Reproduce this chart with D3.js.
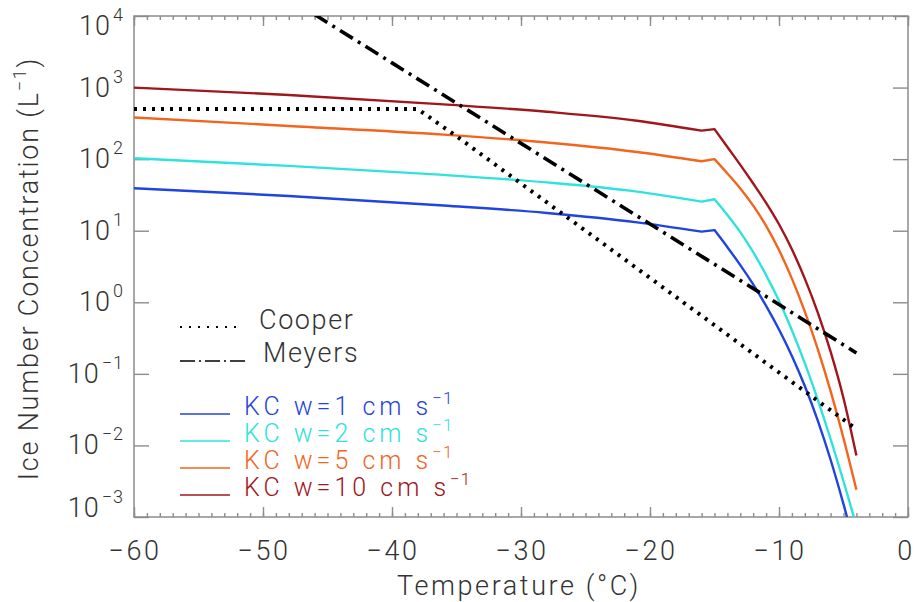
<!DOCTYPE html>
<html>
<head>
<meta charset="utf-8">
<script src="https://cdn.jsdelivr.net/npm/d3@7"></script>
<style>
  html, body { margin: 0; padding: 0; background: #fff; }
  svg { display: block; }
  text { font-family: Roboto, "Open Sans", sans-serif; font-weight: 300; fill: #333; }
</style>
</head>
<body>
<svg id="chart" width="916" height="602"></svg>
<script>
// Temperature axis (°C)
const xTicks = [-60, -50, -40, -30, -20, -10, 0];
// Decade exponents on the concentration axis
const yExponents = [-3, -2, -1, 0, 1, 2, 3, 4];

// Cooper parameterisation (L^-1)
const cooperT = [-60, -38, -35, -30, -25, -20, -15, -10, -5, -4];
const cooperN = [500, 500, 209, 45.7, 10.0, 2.19, 0.478, 0.1045, 0.0229, 0.0169];

// Meyers parameterisation (L^-1)
const meyersT = [-46, -40, -30, -20, -10, -4];
const meyersN = [10470, 2213, 166, 12.4, 0.93, 0.196];

// KC scheme, one series per updraft speed
const kcT = [-60, -48, -36, -28, -21, -16, -15, -14, -13, -12, -11, -10, -9, -8, -7, -6, -5, -4];
const kcW1  = [39.3, 30.6, 22.5, 17.7, 13.1, 9.7, 10.2, 5.89, 3.31, 1.78, 0.891, 0.417, 0.178, 0.0676, 0.0224, 0.00631, 0.00151, 0.000316];
const kcW2  = [103, 80.4, 60.2, 47.3, 35.2, 25.5, 27.5, 16.6, 9.55, 5.01, 2.40, 1.05, 0.407, 0.141, 0.0437, 0.0123, 0.00316, 0.00076];
const kcW5  = [382, 291, 220, 171, 126, 93.5, 100, 63.1, 38.9, 22.4, 11.7, 5.37, 2.14, 0.741, 0.224, 0.0575, 0.0126, 0.0024];
const kcW10 = [1000, 789, 583, 459, 344, 250, 263, 148, 83.2, 45.7, 24.5, 12.3, 5.50, 2.14, 0.724, 0.204, 0.0457, 0.00724];

const kcSeries = [
  { w: "1",  values: kcW1,  color: "#1f44e0" },
  { w: "2",  values: kcW2,  color: "#30e2dc" },
  { w: "5",  values: kcW5,  color: "#f2651f" },
  { w: "10", values: kcW10, color: "#a0161c" }
];

const svg = d3.select("#chart");
const margin = { left: 134, right: 8, top: 16, bottom: 85 };
const W = 916, H = 602;
const x = d3.scaleLinear().domain([-60, 0]).range([margin.left, W - margin.right]);
const y = d3.scaleLog().domain([1e-3, 1e4]).range([H - margin.bottom, margin.top]);
const axisColor = "#8c8c8c";

svg.append("defs").append("clipPath").attr("id", "plot-clip")
  .append("rect")
  .attr("x", x(-60)).attr("y", y(1e4))
  .attr("width", x(0) - x(-60)).attr("height", y(1e-3) - y(1e4));

// Tick marks on all four sides, pointing inward
function styleAxis(g) {
  g.select(".domain").remove();
  g.selectAll(".tick line").attr("stroke", axisColor).attr("stroke-width", 1.4);
  g.selectAll(".tick text").remove();
}
const minorTicks = d3.range(-60, 1, 1);
const decades = yExponents.map(e => Math.pow(10, e));

svg.append("g").attr("transform", `translate(0,${y(1e-3)})`)
  .call(d3.axisBottom(x).tickValues(minorTicks).tickSize(-4).tickFormat("")).call(styleAxis);
svg.append("g").attr("transform", `translate(0,${y(1e-3)})`)
  .call(d3.axisBottom(x).tickValues(xTicks).tickSize(-10).tickFormat("")).call(styleAxis);
svg.append("g").attr("transform", `translate(0,${y(1e4)})`)
  .call(d3.axisTop(x).tickValues(minorTicks).tickSize(-4).tickFormat("")).call(styleAxis);
svg.append("g").attr("transform", `translate(0,${y(1e4)})`)
  .call(d3.axisTop(x).tickValues(xTicks).tickSize(-10).tickFormat("")).call(styleAxis);
svg.append("g").attr("transform", `translate(${x(-60)},0)`)
  .call(d3.axisLeft(y).tickValues(decades).tickSize(-15).tickFormat("")).call(styleAxis);
svg.append("g").attr("transform", `translate(${x(0)},0)`)
  .call(d3.axisRight(y).tickValues(decades).tickSize(-15).tickFormat("")).call(styleAxis);

svg.append("rect")
  .attr("x", x(-60)).attr("y", y(1e4))
  .attr("width", x(0) - x(-60)).attr("height", y(1e-3) - y(1e4))
  .attr("fill", "none").attr("stroke", axisColor).attr("stroke-width", 1.5);

// X tick labels (kept inside the page at the right edge)
const fmt = d3.format("d");
svg.append("g").selectAll("text").data(xTicks).join("text")
  .attr("x", d => Math.min(x(d) + 1, W - 10))
  .attr("y", y(1e-3) + 43)
  .attr("text-anchor", "middle")
  .attr("font-size", 27)
  .attr("letter-spacing", 2.5)
  .text(d => fmt(d));

// Y tick labels as powers of ten; the end labels are nudged inside the frame
const yl = svg.append("g").selectAll("text").data(yExponents).join("text")
  .attr("x", x(-60) - 10)
  .attr("y", (d, i) => {
    let base = y(Math.pow(10, d)) + 9;
    if (i === 0) base -= 9;
    if (i === yExponents.length - 1) base += 10;
    return base;
  })
  .attr("text-anchor", "end")
  .attr("font-size", 27)
  .attr("letter-spacing", 1);
yl.append("tspan").text("10");
yl.append("tspan").attr("dy", -14).attr("font-size", 18).attr("dx", 2)
  .text(d => d < 0 ? "\u2212" + Math.abs(d) : String(d));

// Axis titles
svg.append("text")
  .attr("x", (x(-60) + x(0)) / 2 - 2)
  .attr("y", 595)
  .attr("text-anchor", "middle")
  .attr("font-size", 27)
  .attr("letter-spacing", 2.6)
  .text("Temperature (°C)");

const yt = svg.append("text")
  .attr("transform", `translate(38,${(y(1e4) + y(1e-3)) / 2 + 2}) rotate(-90)`)
  .attr("text-anchor", "middle")
  .attr("font-size", 27)
  .attr("letter-spacing", 1.8);
yt.append("tspan").text("Ice Number Concentration (L");
yt.append("tspan").attr("dy", -12).attr("font-size", 18).text("\u22121");
yt.append("tspan").attr("dy", 12).text(")");

// Data curves
const plot = svg.append("g").attr("clip-path", "url(#plot-clip)");
const line = d3.line().x(d => x(d[0])).y(d => y(d[1]));
const smooth = d3.line().x(d => x(d[0])).y(d => y(d[1])).curve(d3.curveMonotoneX);

// KC curves: smooth plateau, sharp kink between -16 and -15, smooth fall-off
kcSeries.forEach(s => {
  const pts = kcT.map((t, i) => [t, s.values[i]]);
  const k0 = kcT.indexOf(-16), k1 = kcT.indexOf(-15);
  const d = smooth(pts.slice(0, k0 + 1))
    + line(pts.slice(k0, k1 + 1)).replace(/^M/, "L")
    + smooth(pts.slice(k1)).replace(/^M/, "L");
  plot.append("path")
    .attr("d", d)
    .attr("fill", "none")
    .attr("stroke", s.color)
    .attr("stroke-width", 2.4)
    .attr("stroke-linejoin", "round");
});

plot.append("path")
  .datum(cooperT.map((t, i) => [t, cooperN[i]]))
  .attr("d", line)
  .attr("fill", "none")
  .attr("stroke", "#000")
  .attr("stroke-width", 4)
  .attr("stroke-dasharray", "3,6");

plot.append("path")
  .datum(meyersT.map((t, i) => [t, meyersN[i]]))
  .attr("d", line)
  .attr("fill", "none")
  .attr("stroke", "#000")
  .attr("stroke-width", 3.6)
  .attr("stroke-dasharray", "15,6,3,6");

// Legend
const legend = svg.append("g");
const lx0 = 180, lx1 = 240;
legend.append("line")
  .attr("x1", lx0).attr("x2", lx1).attr("y1", 327).attr("y2", 327)
  .attr("stroke", "#000").attr("stroke-width", 2).attr("stroke-dasharray", "2,7");
legend.append("text").attr("x", 259).attr("y", 329)
  .attr("font-size", 27).attr("letter-spacing", 1.6).text("Cooper");
legend.append("line")
  .attr("x1", lx0).attr("x2", 245).attr("y1", 361).attr("y2", 361)
  .attr("stroke", "#000").attr("stroke-width", 1.3).attr("stroke-dasharray", "15,4,2,4");
legend.append("text").attr("x", 263).attr("y", 362)
  .attr("font-size", 27).attr("letter-spacing", 1.6).text("Meyers");

kcSeries.forEach((s, i) => {
  const ly = 414 + i * 27;
  legend.append("line")
    .attr("x1", lx0).attr("x2", 230).attr("y1", ly).attr("y2", ly)
    .attr("stroke", s.color).attr("stroke-width", 1.5);
  const t = legend.append("text")
    .attr("x", 244).attr("y", ly + 1)
    .attr("font-size", 25).attr("letter-spacing", 4)
    .attr("fill", s.color)
    .style("white-space", "pre");
  t.append("tspan").style("fill", s.color).text(`KC w=${s.w} cm s`);
  t.append("tspan").style("fill", s.color).attr("dy", -11).attr("font-size", 17).attr("letter-spacing", 1)
    .text("\u22121");
});
</script>
</body>
</html>
